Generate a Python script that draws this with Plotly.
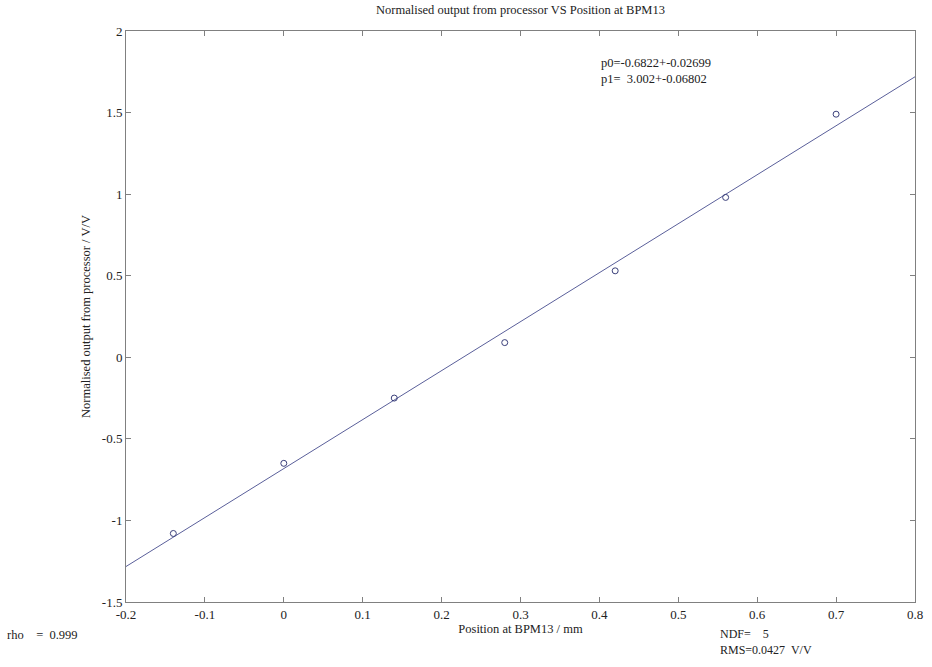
import plotly.graph_objects as go

# Data
positions = [-0.14, 0.0, 0.14, 0.28, 0.42, 0.56, 0.70]
outputs = [-1.08, -0.65, -0.25, 0.09, 0.53, 0.98, 1.49]
p0 = -0.6822
p1 = 3.002
fit_x = [-0.2, 0.8]
fit_y = [p0 + p1 * x for x in fit_x]
x_ticks = [-0.2, -0.1, 0, 0.1, 0.2, 0.3, 0.4, 0.5, 0.6, 0.7, 0.8]
x_tick_labels = ["-0.2", "-0.1", "0", "0.1", "0.2", "0.3", "0.4", "0.5", "0.6", "0.7", "0.8"]
y_ticks = [-1.5, -1, -0.5, 0, 0.5, 1, 1.5, 2]
y_tick_labels = ["-1.5", "-1", "-0.5", "0", "0.5", "1", "1.5", "2"]

FONT = "Liberation Serif, Times New Roman, DejaVu Serif, serif"
AX = "#808080"

fig = go.Figure()
fig.add_trace(go.Scatter(x=fit_x, y=fit_y, mode="lines",
                         line=dict(color="#5a5f9a", width=1), showlegend=False))
fig.add_trace(go.Scatter(x=positions, y=outputs, mode="markers",
                         marker=dict(symbol="circle-open", size=6, color="#3a3f7a",
                                     line=dict(width=1)), showlegend=False))

axis_common = dict(showgrid=False, zeroline=False, showline=True, linecolor=AX, linewidth=1,
                   mirror="ticks", ticks="inside", ticklen=5, tickcolor=AX,
                   tickfont=dict(family=FONT, size=13, color="#222"))

fig.update_layout(
    width=932, height=667,
    margin=dict(l=126, r=15, t=31, b=65),
    paper_bgcolor="white", plot_bgcolor="white",
    title=dict(text="Normalised output from processor VS Position at BPM13",
               font=dict(family=FONT, size=12.5, color="#222"),
               x=0.5, xref="paper", y=0.985, yanchor="middle"),
    xaxis=dict(range=[-0.2, 0.8], tickvals=x_ticks, ticktext=x_tick_labels,
               title=dict(text="Position at BPM13 / mm", standoff=2,
                          font=dict(family=FONT, size=12.5, color="#222")),
               **axis_common),
    yaxis=dict(range=[-1.5, 2], tickvals=y_ticks, ticktext=y_tick_labels,
               title=dict(text="Normalised output from processor / V/V", standoff=8,
                          font=dict(family=FONT, size=12.5, color="#222")),
               **axis_common),
)
fig.update_layout(margin=dict(r=9))

ann_font = dict(family=FONT, size=12.5, color="#222")
fig.add_annotation(text="p0=-0.6822+-0.02699<br>p1=  3.002+-0.06802", x=0.6, y=0.96,
                   xref="paper", yref="paper", xanchor="left", yanchor="top",
                   showarrow=False, align="left", font=ann_font)
fig.add_annotation(text="rho    =  0.999", x=-0.153, y=-0.058, xref="paper", yref="paper",
                   xanchor="left", yanchor="middle", showarrow=False, font=ann_font)
fig.add_annotation(text="NDF=    5<br>RMS=0.0427  V/V", x=0.75, y=-0.04,
                   xref="paper", yref="paper", xanchor="left", yanchor="top",
                   showarrow=False, align="left", font=dict(family=FONT, size=12, color="#222"))

fig.write_html("out.html")
